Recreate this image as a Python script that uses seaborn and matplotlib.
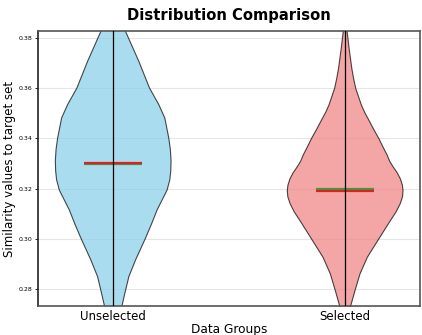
import numpy as np
import seaborn as sns
from matplotlib import pyplot as plt

# group names
groups = ["Unselected", "Selected"]
body_colors = ["skyblue", "lightcoral"]

# density profiles (value, relative density)
unsel_coords = [0.252, 0.262, 0.2737, 0.2784, 0.2850, 0.2916, 0.3003, 0.3060, 0.3115,
                0.3194, 0.3234, 0.3270, 0.3310, 0.3355, 0.3401, 0.3481, 0.3534, 0.3600,
                0.3706, 0.3825, 0.392, 0.402]
unsel_density = [0.5, 4, 9, 11.7, 15.7, 22.4, 32.4, 38.5, 44,
                 54, 56.7, 57.7, 58, 57.3, 55.7, 51.7, 45.7, 36.4,
                 25.7, 12.4, 5, 0.5]
unsel_mean, unsel_median = 0.3303, 0.3299
unsel_min, unsel_max = 0.252, 0.402

sel_coords = [0.258, 0.266, 0.2737, 0.2797, 0.2863, 0.2929, 0.3002, 0.3075, 0.3110,
              0.3143, 0.3170, 0.3194, 0.3215, 0.3240, 0.3265, 0.3288, 0.3310, 0.3335,
              0.3365, 0.3401, 0.3440, 0.3481, 0.3505, 0.3534, 0.3600, 0.3640, 0.3680,
              0.3759, 0.3825, 0.388]
sel_density = [0.5, 3, 5.7, 10, 15, 22.4, 34, 45.7, 51.5,
               55.7, 57.9, 58.4, 57.8, 55.8, 52.5, 48.5, 45, 42.4,
               38.5, 34, 28.5, 23, 19.7, 16.4, 10.7, 8.5, 6.7,
               4, 2, 0.3]
sel_mean, sel_median = 0.3191, 0.3198
sel_min, sel_max = 0.258, 0.388

y_ticks = [0.28, 0.30, 0.32, 0.34, 0.36, 0.38]

sns.set_style("white")
plt.rcParams.update({"text.color": "black", "axes.labelcolor": "black",
                     "xtick.color": "black", "ytick.color": "black"})

vpstats = [
    {"coords": np.array(unsel_coords), "vals": np.array(unsel_density),
     "mean": unsel_mean, "median": unsel_median, "min": unsel_min, "max": unsel_max},
    {"coords": np.array(sel_coords), "vals": np.array(sel_density),
     "mean": sel_mean, "median": sel_median, "min": sel_min, "max": sel_max},
]

fig = plt.figure(figsize=(4.22, 3.35), dpi=100)
ax = fig.add_axes([0.090, 0.0866, 0.905, 0.821])

parts = ax.violin(vpstats, positions=[1, 2], widths=0.5,
                  showmeans=True, showextrema=True, showmedians=True)

for body, c in zip(parts["bodies"], body_colors):
    body.set_facecolor(c)
    body.set_edgecolor("black")
    body.set_linewidth(0.8)
    body.set_alpha(0.7)

parts["cmeans"].set_color("#e02020")
parts["cmeans"].set_linewidth(1.6)
parts["cmeans"].set_zorder(3)
parts["cmedians"].set_color("#3c9a3c")
parts["cmedians"].set_linewidth(1.6)
for k in ["cbars", "cmins", "cmaxes"]:
    parts[k].set_color("black")
    parts[k].set_linewidth(0.9)
    parts[k].set_zorder(4)

ax.set_xticks([1, 2])
ax.set_xticklabels(groups, fontsize=8.5)
ax.set_yticks(y_ticks)
ax.set_yticklabels([f"{t:.2f}" for t in y_ticks], fontsize=4.5)
ax.tick_params(axis="x", length=0, pad=3)
ax.tick_params(axis="y", length=2, width=0.6, pad=2, left=True)
ax.set_ylim(0.2733, 0.3827)
ax.set_xlim(0.675, 2.325)

ax.yaxis.grid(True, color="#e6e6e6", linewidth=0.8)
ax.set_axisbelow(True)

for s in ax.spines.values():
    s.set_color("#555555")
    s.set_linewidth(1.2)
ax.spines["left"].set_color("#222222")

ax.set_xlabel("Data Groups", fontsize=8.7, labelpad=0)
ax.set_ylabel("Similarity values to target set", fontsize=8.5, labelpad=2)
ax.set_title("Distribution Comparison", fontsize=10.6, fontweight="bold", pad=8)

fig.savefig("out.png", dpi=100)
